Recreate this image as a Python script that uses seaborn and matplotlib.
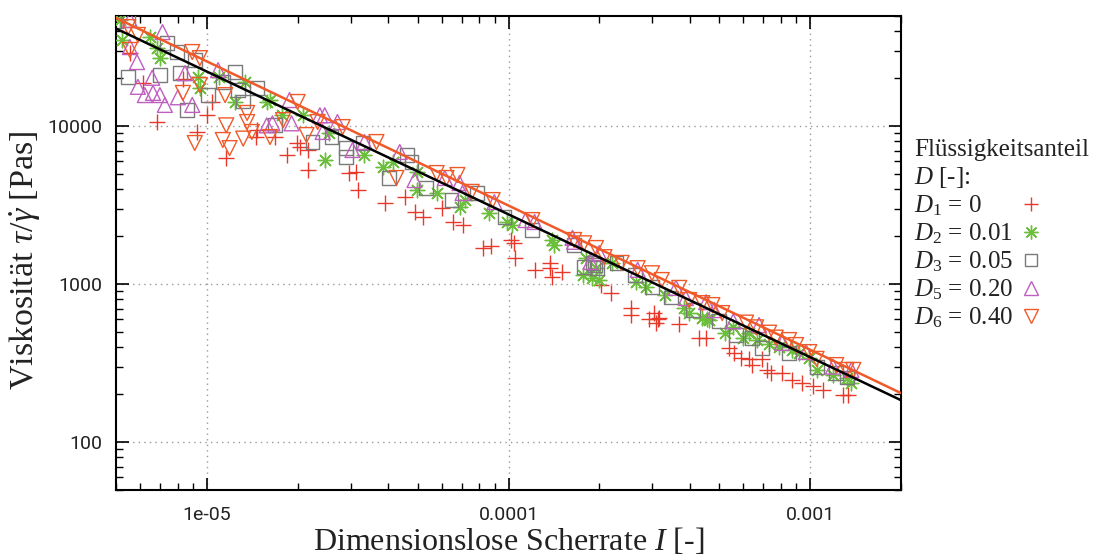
import matplotlib
matplotlib.use("Agg")
import matplotlib.pyplot as plt
import seaborn as sns
import numpy as np
from matplotlib.lines import Line2D
from matplotlib.ticker import FixedLocator, FixedFormatter, LogLocator, NullFormatter

# ---------------- data ----------------
d1_x = [5.56e-6, 6.14e-6, 6.84e-6, 8.33e-6, 9.27e-6, 1.0e-5, 1.04e-5, 1.16e-5, 1.46e-5, 1.47e-5,
        1.68e-5, 1.85e-5, 1.99e-5, 2.03e-5, 2.16e-5, 2.16e-5, 2.97e-5, 3.13e-5, 3.16e-5, 3.89e-5,
        4.53e-5, 4.88e-5, 5.19e-5, 6.0e-5, 6.53e-5, 7.04e-5, 8.22e-5, 8.78e-5, 1.02e-4, 1.04e-4,
        1.05e-4, 1.22e-4, 1.37e-4, 1.37e-4, 1.39e-4, 1.50e-4, 2.03e-4, 2.19e-4, 2.55e-4, 2.55e-4,
        2.93e-4, 3.04e-4, 3.09e-4, 3.16e-4, 3.12e-4, 3.68e-4, 4.29e-4, 4.52e-4, 5.39e-4, 5.6e-4,
        5.9e-4, 6.28e-4, 6.43e-4, 6.92e-4, 7.2e-4, 7.42e-4, 8.07e-4, 8.71e-4, 9.4e-4, 1.02e-3,
        1.10e-3, 1.28e-3, 1.33e-3]
d1_y = [29000, 18700, 10600, 19900, 9170, 11700, 14200, 6270, 8520, 9440,
        8520, 6560, 7810, 7370, 7050, 5270, 5040, 5110, 3940, 3260,
        3550, 2850, 2650, 3030, 2470, 2360, 1690, 1740, 1900, 1810,
        1460, 1230, 1360, 1260, 1110, 1190, 985, 880, 710, 636,
        604, 660, 570, 614, 604, 562, 458, 458, 395, 366,
        342, 336, 307, 336, 286, 275, 275, 247, 238, 225,
        213, 198, 198]

d2_x = [5.15e-6, 5.23e-6, 6.47e-6, 6.84e-6, 6.99e-6, 9.34e-6, 9.48e-6, 1.10e-5, 1.24e-5, 1.34e-5,
        1.58e-5, 1.62e-5, 1.77e-5, 2.08e-5, 2.46e-5, 2.55e-5, 3.33e-5, 3.83e-5, 4.13e-5, 4.99e-5,
        4.99e-5, 5.78e-5, 6.88e-5, 7.15e-5, 8.65e-5, 9.9e-5, 1.03e-4, 1.39e-4, 1.42e-4, 1.76e-4,
        1.81e-4, 1.89e-4, 1.95e-4, 2.0e-4, 2.2e-4, 2.65e-4, 2.86e-4, 3.29e-4, 3.82e-4, 3.97e-4,
        4.39e-4, 4.56e-4, 4.63e-4, 5.22e-4, 5.56e-4, 6.0e-4, 6.28e-4, 6.66e-4, 7.31e-4, 7.89e-4,
        8.71e-4, 9.19e-4, 9.93e-4, 1.05e-3, 1.19e-3, 1.32e-3, 1.37e-3]
d2_y = [46900, 35000, 36600, 31200, 27000, 20400, 17400, 20400, 14200, 18900,
        14200, 14600, 11700, 11700, 6090, 9040, 6560, 5500, 5900, 5110,
        3940, 3770, 3080, 3400, 2810, 2470, 2360, 1900, 1770, 1140,
        1460, 1090, 1260, 1060, 1360, 1030, 960, 852, 706, 660,
        614, 604, 592, 492, 532, 458, 492, 442, 420, 400,
        382, 366, 342, 286, 266, 256, 238]

d3_x = [5.0e-6, 5.49e-6, 5.49e-6, 6.99e-6, 7.4e-6, 7.99e-6, 8.14e-6, 8.62e-6, 9.12e-6, 1.01e-5,
        1.13e-5, 1.24e-5, 1.27e-5, 1.32e-5, 1.47e-5, 1.68e-5, 2.24e-5, 2.59e-5, 2.9e-5, 2.9e-5,
        3.28e-5, 4.03e-5, 4.6e-5, 4.77e-5, 5.34e-5, 6.47e-5, 7.84e-5, 9.7e-5, 1.2e-4, 1.65e-4,
        1.78e-4, 1.9e-4, 1.97e-4, 1.93e-4, 2.28e-4, 2.62e-4, 3.0e-4, 3.46e-4, 4.09e-4, 4.99e-4,
        5.69e-4, 6.43e-4, 6.92e-4, 8.51e-4, 1.05e-3, 1.22e-3, 1.32e-3]
d3_y = [46300, 46900, 20400, 21000, 33500, 29400, 21600, 12600, 26200, 15700,
        19000, 21900, 16900, 14300, 17300, 10100, 7920, 8520, 7250, 6370,
        7810, 4690, 6560, 5900, 4060, 3400, 3770, 2650, 2200, 1770,
        1280, 1360, 1260, 1320, 1360, 1140, 960, 822, 684, 580,
        475, 458, 396, 366, 300, 275, 256]

d5_x = [5.56e-6, 5.56e-6, 5.87e-6, 5.91e-6, 6.23e-6, 6.59e-6, 6.63e-6, 6.99e-6, 7.13e-6, 7.26e-6,
        8.02e-6, 8.46e-6, 8.95e-6, 1.09e-5, 1.58e-5, 1.65e-5, 1.88e-5, 1.91e-5, 2.37e-5, 2.46e-5,
        2.42e-5, 2.71e-5, 3.04e-5, 3.33e-5, 4.36e-5, 4.88e-5, 6.15e-5, 6.88e-5, 7.04e-5, 8.98e-5,
        1.14e-4, 1.22e-4, 1.63e-4, 1.65e-4, 1.87e-4, 2.0e-4, 2.68e-4, 3.59e-4, 3.87e-4, 4.52e-4,
        4.81e-4, 5.56e-4, 6.77e-4, 8.07e-4, 9.69e-4, 1.19e-3, 1.37e-3]
d5_y = [46900, 31600, 25400, 17700, 15700, 20200, 16200, 15700, 39300, 13600,
        15200, 21600, 13600, 22600, 10100, 10400, 14600, 10400, 11700, 11700,
        9170, 10600, 7050, 7920, 6850, 4550, 4690, 4360, 3770, 3300,
        2540, 2470, 1960, 1850, 1380, 1570, 1230, 945, 815, 768,
        684, 580, 550, 424, 371, 300, 286]

d6_x = [5.49e-6, 5.56e-6, 5.91e-6, 8.33e-6, 8.95e-6, 9.12e-6, 9.48e-6, 9.48e-6, 1.15e-5, 1.16e-5,
        1.13e-5, 1.19e-5, 1.32e-5, 1.36e-5, 1.36e-5, 1.41e-5, 1.62e-5, 1.79e-5, 2.0e-5, 2.14e-5,
        2.33e-5, 2.82e-5, 3.65e-5, 4.25e-5, 5.78e-5, 6.23e-5, 6.77e-5, 7.55e-5, 8.86e-5, 1.2e-4,
        1.65e-4, 1.78e-4, 1.95e-4, 2.08e-4, 2.37e-4, 2.68e-4, 2.99e-4, 3.22e-4, 3.68e-4, 3.97e-4,
        4.39e-4, 4.74e-4, 5.11e-4, 6.13e-4, 6.62e-4, 7.31e-4, 7.69e-4, 8.51e-4, 8.98e-4, 9.93e-4,
        1.05e-3, 1.22e-3, 1.32e-3, 1.39e-3]
d6_y = [42300, 30300, 37700, 16200, 29400, 7810, 26900, 18200, 15700, 10100,
        8160, 7250, 8330, 12100, 10600, 9170, 8520, 10900, 14200, 8770,
        10600, 9850, 7920, 4690, 5040, 4690, 4900, 3830, 3400, 2540,
        1900, 1810, 1690, 1480, 1360, 1260, 1170, 1060, 945, 792,
        757, 736, 655, 570, 532, 492, 458, 442, 411, 371,
        336, 307, 286, 286]

fit_x = [5e-6, 2e-3]
fit_black_y = [41400, 184]
fit_orange_y = [48300, 204]

series_labels = [r"$D_1$ = 0", r"$D_2$ = 0.01", r"$D_3$ = 0.05", r"$D_5$ = 0.20", r"$D_6$ = 0.40"]
legend_title = "Flüssigkeitsanteil\n" + r"$D$ [-]:"
x_ticks = [1e-5, 1e-4, 1e-3]
x_ticklabels = ["1e-05", "0.0001", "0.001"]
y_ticks = [100, 1000, 10000]
y_ticklabels = ["100", "1000", "10000"]

# ---------------- style ----------------
sns.set_theme(style="ticks")
plt.rcParams["font.family"] = ["Liberation Serif", "DejaVu Serif"]
plt.rcParams["mathtext.fontset"] = "custom"
plt.rcParams["mathtext.rm"] = "Liberation Serif"
plt.rcParams["mathtext.it"] = "Liberation Serif:italic"
plt.rcParams["mathtext.bf"] = "Liberation Serif:bold"

c_red = "#e8382a"
c_green = "#6cbf3c"
c_gray = "#7a7a7a"
c_purple = "#c05fc0"
c_orange = "#f05a28"
c_text = "#222222"

fig = plt.figure(figsize=(11.03, 5.56), dpi=100)
ax = fig.add_axes([116 / 1103, 1 - 489.6 / 556, (901 - 116) / 1103, (489.6 - 15.6) / 556])
ax.set_xscale("log")
ax.set_yscale("log")

common = dict(ax=ax, legend=False, zorder=3)
sns.scatterplot(x=d1_x, y=d1_y, marker="+", s=120, color=c_red, linewidth=1.0, **common)
sns.scatterplot(x=d2_x, y=d2_y, marker=(8, 2, 0), s=110, color=c_green, linewidth=1.0, **common)
sns.scatterplot(x=d3_x, y=d3_y, marker="s", s=100, color=c_gray, facecolor="none",
                edgecolor=c_gray, linewidth=1.0, **common)
sns.scatterplot(x=d5_x, y=d5_y, marker="^", s=115, color=c_purple, facecolor="none",
                edgecolor=c_purple, linewidth=1.0, **common)
sns.scatterplot(x=d6_x, y=d6_y, marker="v", s=115, color=c_orange, facecolor="none",
                edgecolor=c_orange, linewidth=1.0, **common)

sns.lineplot(x=fit_x, y=fit_black_y, color="black", linewidth=1.8, ax=ax, zorder=4)
sns.lineplot(x=fit_x, y=fit_orange_y, color=c_orange, linewidth=1.8, ax=ax, zorder=4)

ax.set_xlim(5e-6, 2e-3)
ax.set_ylim(50, 50000)

ax.xaxis.set_major_locator(FixedLocator(x_ticks))
ax.xaxis.set_major_formatter(FixedFormatter(x_ticklabels))
ax.yaxis.set_major_locator(FixedLocator(y_ticks))
ax.yaxis.set_major_formatter(FixedFormatter(y_ticklabels))
ax.xaxis.set_minor_locator(LogLocator(base=10, subs=np.arange(2, 10)))
ax.yaxis.set_minor_locator(LogLocator(base=10, subs=np.arange(2, 10)))
ax.xaxis.set_minor_formatter(NullFormatter())
ax.yaxis.set_minor_formatter(NullFormatter())

tick_font = ["Roboto", "DejaVu Sans"]
ax.tick_params(which="both", direction="in", top=True, right=True, color="black")
ax.tick_params(which="major", length=9, width=1.2)
ax.tick_params(which="minor", length=5, width=1.0)
ax.tick_params(axis="x", which="major", pad=12)
ax.tick_params(axis="y", which="major", pad=10)
for lab in ax.get_xticklabels() + ax.get_yticklabels():
    lab.set_family(tick_font)
    lab.set_fontsize(14)
    lab.set_color(c_text)

for sp in ax.spines.values():
    sp.set_linewidth(1.5)
    sp.set_color("black")

ax.grid(True, which="major", linestyle=(0, (1, 3)), color="#999999", linewidth=1.0)
ax.set_axisbelow(True)

ax.set_xlabel(r"Dimensionslose Scherrate $I$ [-]", fontsize=23, color=c_text)
ax.xaxis.set_label_coords(0.5, (489.6 - 526) / 474)
ax.set_ylabel(r"Viskosität $\tau/\dot{\gamma}$ [Pas]", fontsize=24.5, color=c_text)
ax.yaxis.set_label_coords((43 - 116) / 785, 0.484)

# legend: text column (left-aligned) and marker column (aligned) drawn as two legends
handles = [
    Line2D([], [], linestyle="none", marker="+", markersize=10, color=c_red, markeredgewidth=1.0),
    Line2D([], [], linestyle="none", marker=(8, 2, 0), markersize=10, color=c_green, markeredgewidth=1.0),
    Line2D([], [], linestyle="none", marker="s", markersize=9, markerfacecolor="none",
           markeredgecolor=c_gray, markeredgewidth=1.0),
    Line2D([], [], linestyle="none", marker="^", markersize=10, markerfacecolor="none",
           markeredgecolor=c_purple, markeredgewidth=1.0),
    Line2D([], [], linestyle="none", marker="v", markersize=10, markerfacecolor="none",
           markeredgecolor=c_orange, markeredgewidth=1.0),
]
blank = [Line2D([], [], linestyle="none") for _ in series_labels]
leg_kw = dict(loc="upper left", bbox_to_anchor=((914 - 116) / 785, (489.6 - 139) / 474),
              frameon=False, fontsize=18, title_fontsize=18, alignment="left",
              labelspacing=0.14, borderaxespad=0, borderpad=0)
leg_text = ax.legend(blank, series_labels, title=legend_title, markerfirst=True,
                     handlelength=0, handletextpad=0, **leg_kw)
for t in leg_text.get_texts():
    t.set_color(c_text)
leg_text.get_title().set_color(c_text)
ax.add_artist(leg_text)

leg_mark = ax.legend(handles, series_labels, title=legend_title, markerfirst=False,
                     handlelength=0.8, handletextpad=0.3, **leg_kw)
for t in leg_mark.get_texts():
    t.set_alpha(0)
leg_mark.get_title().set_alpha(0)

fig.savefig("out.png", dpi=100)
